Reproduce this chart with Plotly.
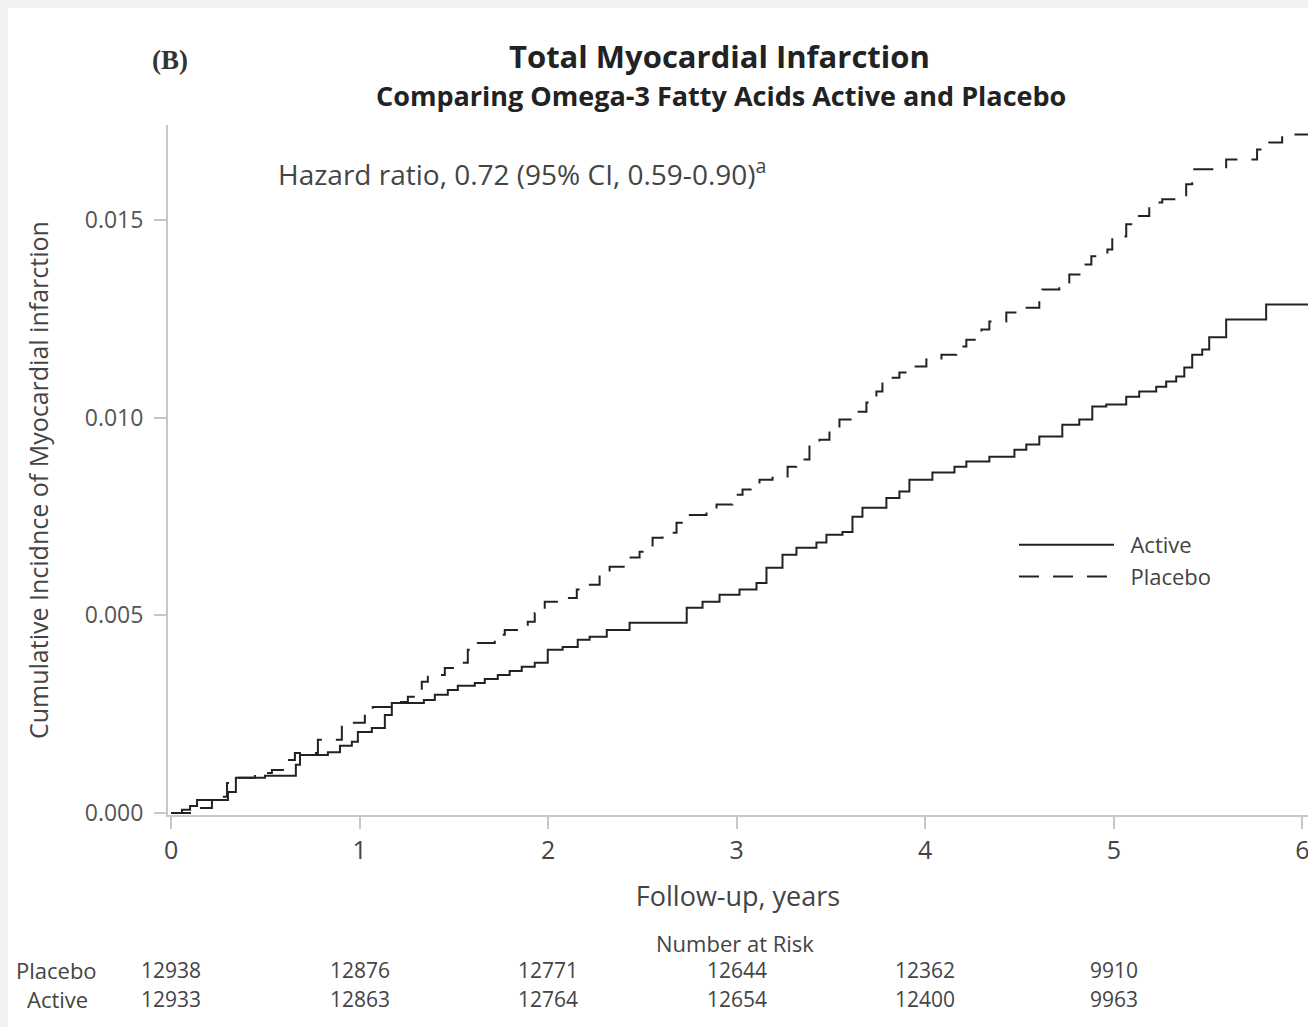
import plotly.graph_objects as go

# ---- data ----
active_t = [0.000, 0.058, 0.101, 0.138, 0.302, 0.344, 0.498, 0.662, 0.684, 0.832, 0.896, 0.959, 0.991,
            1.065, 1.134, 1.171, 1.341, 1.399, 1.468, 1.521, 1.611, 1.664, 1.733, 1.796, 1.860, 1.929,
            1.998, 2.077, 2.157, 2.220, 2.311, 2.432, 2.735, 2.819, 2.909, 3.015, 3.105, 3.158, 3.243,
            3.317, 3.423, 3.476, 3.561, 3.614, 3.667, 3.794, 3.863, 3.916, 4.038, 4.155, 4.218, 4.340,
            4.473, 4.536, 4.605, 4.727, 4.817, 4.886, 4.960, 5.066, 5.135, 5.225, 5.278, 5.331, 5.374,
            5.416, 5.469, 5.506, 5.596, 5.808, 6.030]
active_y = [0.00000, 0.00008, 0.00018, 0.00033, 0.00053, 0.00089, 0.00094, 0.00122, 0.00147, 0.00154,
            0.00170, 0.00180, 0.00205, 0.00215, 0.00248, 0.00278, 0.00286, 0.00299, 0.00311, 0.00322,
            0.00329, 0.00339, 0.00349, 0.00359, 0.00370, 0.00380, 0.00413, 0.00420, 0.00438, 0.00446,
            0.00463, 0.00481, 0.00519, 0.00534, 0.00552, 0.00565, 0.00582, 0.00620, 0.00653, 0.00671,
            0.00684, 0.00704, 0.00711, 0.00749, 0.00772, 0.00797, 0.00813, 0.00843, 0.00861, 0.00876,
            0.00889, 0.00901, 0.00919, 0.00932, 0.00952, 0.00982, 0.00995, 0.01028, 0.01033, 0.01053,
            0.01066, 0.01078, 0.01091, 0.01104, 0.01127, 0.01159, 0.01172, 0.01203, 0.01248, 0.01286,
            0.01286]

placebo_t = [0.000, 0.101, 0.217, 0.297, 0.339, 0.445, 0.535, 0.615, 0.657, 0.779, 0.906, 0.959, 1.028,
             1.070, 1.187, 1.256, 1.330, 1.362, 1.452, 1.521, 1.574, 1.627, 1.717, 1.770, 1.892, 1.929,
             1.982, 2.061, 2.152, 2.205, 2.273, 2.326, 2.432, 2.485, 2.554, 2.607, 2.681, 2.735, 2.840,
             2.893, 2.978, 3.031, 3.121, 3.190, 3.270, 3.317, 3.386, 3.439, 3.492, 3.545, 3.614, 3.688,
             3.741, 3.773, 3.863, 3.916, 4.006, 4.086, 4.165, 4.218, 4.298, 4.340, 4.430, 4.510, 4.605,
             4.621, 4.711, 4.764, 4.833, 4.881, 4.966, 4.992, 5.066, 5.119, 5.188, 5.257, 5.347, 5.384,
             5.416, 5.596, 5.760, 5.824, 5.893, 6.030]
placebo_y = [0.00000, 0.00013, 0.00041, 0.00076, 0.00089, 0.00101, 0.00109, 0.00134, 0.00152, 0.00185,
             0.00218, 0.00228, 0.00256, 0.00268, 0.00281, 0.00294, 0.00332, 0.00349, 0.00367, 0.00380,
             0.00413, 0.00430, 0.00451, 0.00463, 0.00484, 0.00506, 0.00534, 0.00544, 0.00565, 0.00577,
             0.00608, 0.00623, 0.00646, 0.00661, 0.00696, 0.00709, 0.00734, 0.00754, 0.00767, 0.00780,
             0.00805, 0.00818, 0.00843, 0.00848, 0.00876, 0.00894, 0.00927, 0.00944, 0.00975, 0.00995,
             0.01015, 0.01038, 0.01066, 0.01101, 0.01114, 0.01129, 0.01147, 0.01159, 0.01180, 0.01197,
             0.01223, 0.01243, 0.01266, 0.01278, 0.01299, 0.01324, 0.01342, 0.01362, 0.01387, 0.01408,
             0.01425, 0.01458, 0.01489, 0.01510, 0.01544, 0.01552, 0.01559, 0.01590, 0.01628, 0.01653,
             0.01678, 0.01696, 0.01716, 0.01716]

risk_years = [0, 1, 2, 3, 4, 5]
risk_placebo = ["12938", "12876", "12771", "12644", "12362", "9910"]
risk_active = ["12933", "12863", "12764", "12654", "12400", "9963"]

x_ticks = [0, 1, 2, 3, 4, 5, 6]
y_ticks = [0.000, 0.005, 0.010, 0.015]
y_tick_labels = ["0.000", "0.005", "0.010", "0.015"]

FONT = "Open Sans"
GREY = "#444444"
NB = "\u00a0"

fig = go.Figure()
fig.add_trace(go.Scatter(x=active_t, y=active_y, mode="lines", name=NB + NB + "Active",
                         line=dict(shape="hv", color="#222222", width=2)))
fig.add_trace(go.Scatter(x=placebo_t, y=placebo_y, mode="lines", name=NB + NB + "Placebo",
                         line=dict(shape="hv", color="#222222", width=2, dash="20px,14px")))

# figure fills the whole page (body margin removed by post_script)
W, H = 1308, 1027
L, T = 168, 125                      # plot area left / top in px
B = H - 815                          # bottom margin
PW, PH = W - L, H - T - B


def px2paper_x(px):
    return (px - L) / PW


def px2paper_y(py):
    return (H - B - py) / PH


def note(text, x, y, size, color=GREY, family=FONT, xanchor="center", xref="paper", **kw):
    return dict(text=text, x=x, y=y, xref=xref, yref="paper", showarrow=False,
                font=dict(family=family, size=size, color=color),
                xanchor=xanchor, yanchor="middle", **kw)


annotations = [
    note("<b>Total Myocardial Infarction</b>", px2paper_x(719), px2paper_y(56), 31, color="#222"),
    note("<b>Comparing Omega-3 Fatty Acids Active and Placebo</b>", px2paper_x(721), px2paper_y(96), 27,
         color="#222"),
    note("<b>(B)</b>", px2paper_x(170), px2paper_y(60), 27, color="#333", family="Liberation Serif"),
    note("Hazard ratio, 0.72 (95% CI, 0.59-0.90)<sup>a</sup>", px2paper_x(276), px2paper_y(172), 28,
         xanchor="left"),
    note("Cumulative Incidnce of Myocardial infarction", px2paper_x(38), px2paper_y(480), 25, textangle=-90),
    note("Number at Risk", px2paper_x(735), px2paper_y(943), 22),
    note("Placebo", px2paper_x(56), px2paper_y(970), 22),
    note("Active", px2paper_x(57), px2paper_y(999), 22),
]
for yr, p, a in zip(risk_years, risk_placebo, risk_active):
    annotations.append(note(p, yr, px2paper_y(970), 21, xref="x"))
    annotations.append(note(a, yr, px2paper_y(999), 21, xref="x"))

# light grey frame strips along the top and left edges of the page
shapes = [
    dict(type="rect", xref="paper", yref="paper", x0=px2paper_x(0), x1=px2paper_x(1400),
         y0=px2paper_y(8), y1=px2paper_y(-10), fillcolor="#f2f2f2", line=dict(width=0), layer="below"),
    dict(type="rect", xref="paper", yref="paper", x0=px2paper_x(-10), x1=px2paper_x(8),
         y0=px2paper_y(1100), y1=px2paper_y(-10), fillcolor="#f2f2f2", line=dict(width=0), layer="below"),
]

fig.update_layout(
    width=W, height=H,
    margin=dict(l=L, r=0, t=T, b=B, pad=0),
    paper_bgcolor="white", plot_bgcolor="white",
    showlegend=True,
    legend=dict(x=px2paper_x(1014), y=px2paper_y(524), xanchor="left", yanchor="top",
                font=dict(family=FONT, size=22, color=GREY), bgcolor="rgba(0,0,0,0)",
                itemwidth=95, tracegroupgap=0),
    annotations=annotations,
    shapes=shapes,
    xaxis=dict(range=[-0.016, 6.03], tickvals=x_ticks, ticks="outside", ticklen=12, tickwidth=2,
               tickcolor="#c8c8c8", showline=True, linecolor="#c8c8c8", linewidth=2, showgrid=False,
               zeroline=False, tickfont=dict(family=FONT, size=25, color=GREY),
               ticklabeloverflow="allow",
               title=dict(text="Follow-up, years", font=dict(family=FONT, size=27, color=GREY), standoff=22)),
    yaxis=dict(range=[-0.00005, 0.0174], tickvals=y_ticks, ticktext=[t + NB for t in y_tick_labels],
               ticks="outside", ticklen=12, tickwidth=2, tickcolor="#c8c8c8", showline=True,
               linecolor="#c8c8c8", linewidth=2, showgrid=False, zeroline=False,
               tickfont=dict(family=FONT, size=23, color="#555")),
)

fig.write_html(
    "out.html",
    config={"displayModeBar": False},
    post_script=("document.documentElement.style.overflow='hidden';"
                 "document.body.style.overflow='hidden';"
                 "document.body.style.margin='0';"),
)
